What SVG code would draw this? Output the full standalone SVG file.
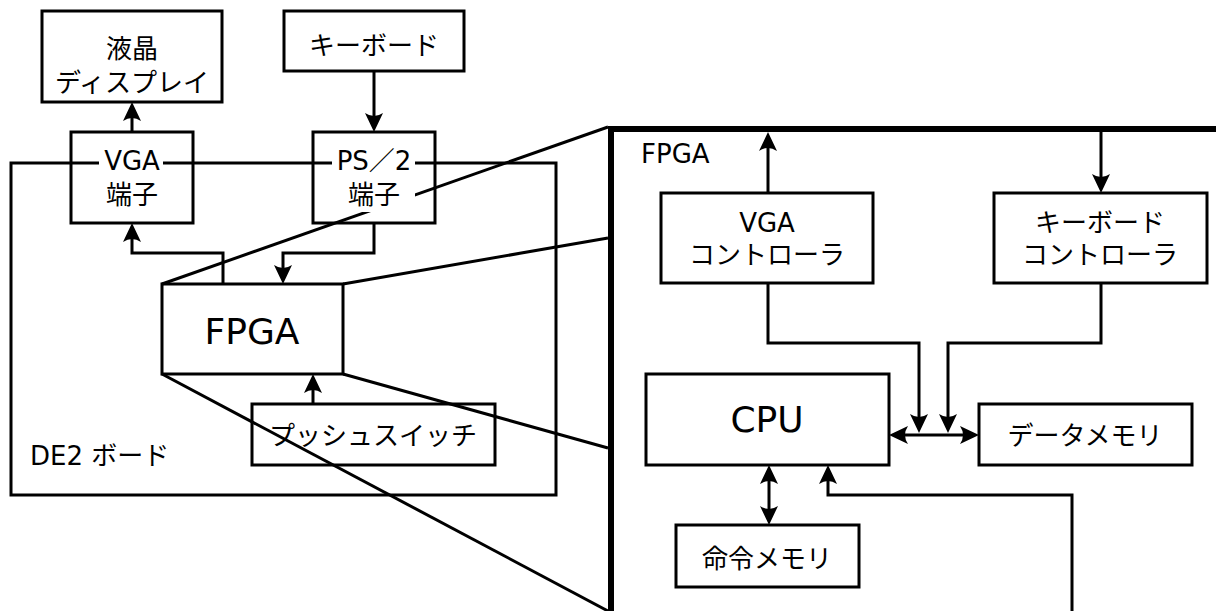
<svg xmlns="http://www.w3.org/2000/svg" width="1219" height="611" viewBox="0 0 1219 611">
<defs>
<style>
.box{fill:#fff;stroke:#000;stroke-width:3}
.obox{fill:none;stroke:#000;stroke-width:3}
.ln{fill:none;stroke:#000;stroke-width:3}
.bg{fill:#fff;stroke:none}
text{font-family:"DejaVu Sans","Noto Sans CJK JP",sans-serif;font-size:26px;fill:#000;text-anchor:middle}
.st{text-anchor:start}
.big{font-size:36px}
</style>
<marker id="ah" markerUnits="userSpaceOnUse" markerWidth="27" markerHeight="22" viewBox="-16 -11 27 22" refX="0" refY="0" orient="auto-start-reverse">
<path d="M5,0 L-14,-9 Q-8,0 -14,9 Z" fill="#000"/>
</marker>
</defs>
<rect width="1219" height="611" fill="#fff"/>

<g id="board">
<rect class="obox" x="11" y="163" width="545" height="332"/>
<text class="st" x="30" y="465">DE2 ボード</text>
</g>

<g id="lcd">
<rect class="box" x="42" y="11" width="180" height="91"/>
<text x="132" y="58">液晶</text>
<text x="132" y="92">ディスプレイ</text>
</g>

<g id="keyboard">
<rect class="box" x="284" y="11" width="180" height="60"/>
<text x="374" y="55">キーボード</text>
</g>

<g id="fpga">
<rect class="box" x="162" y="284" width="181" height="90"/>
<text class="big" x="252" y="344">FPGA</text>
</g>

<g id="pushswitch">
<rect class="box" x="252" y="404" width="243" height="61"/>
<text x="373" y="445">プッシュスイッチ</text>
</g>

<g id="zoomlines">
<path class="ln" d="M162,284 L608,127"/>
<path class="ln" d="M343,284 L608,238"/>
<path class="ln" d="M343,374 L608,448"/>
<path class="ln" d="M162,374 L608,611"/>
</g>

<g id="vgaport">
<rect class="obox" x="71" y="132" width="122" height="91"/>
<rect class="bg" x="99" y="148" width="64" height="64"/>
<text x="132" y="170">VGA</text>
<text x="132" y="204">端子</text>
</g>

<g id="ps2port">
<rect class="obox" x="313" y="132" width="122" height="91"/>
<rect class="bg" x="332" y="148" width="83" height="64"/>
<text x="374" y="170">PS／2</text>
<text x="374" y="204">端子</text>
</g>

<g id="fpgainner">
<path d="M611,611 V129 H1216" fill="none" stroke="#000" stroke-width="6"/>
<text class="st" x="641" y="163">FPGA</text>
</g>

<g id="vgactl">
<rect class="box" x="661" y="193" width="212" height="90"/>
<text x="767" y="232">VGA</text>
<text x="767" y="264">コントローラ</text>
</g>

<g id="kbctl">
<rect class="box" x="994" y="193" width="213" height="90"/>
<text x="1100" y="232">キーボード</text>
<text x="1100" y="264">コントローラ</text>
</g>

<g id="cpu">
<rect class="box" x="646" y="374" width="243" height="91"/>
<text class="big" x="767" y="432">CPU</text>
</g>

<g id="datamem">
<rect class="box" x="979" y="404" width="213" height="61"/>
<text x="1085" y="445">データメモリ</text>
</g>

<g id="instmem">
<rect class="box" x="676" y="525" width="183" height="62"/>
<text x="767" y="568">命令メモリ</text>
</g>

<g id="connectors">
<path class="ln" d="M132,132 V107" marker-end="url(#ah)"/>
<path class="ln" d="M374,71 V127" marker-end="url(#ah)"/>
<path class="ln" d="M223,284 V253 H132 V228" marker-end="url(#ah)"/>
<path class="ln" d="M374,223 V253 H283 V279" marker-end="url(#ah)"/>
<path class="ln" d="M313,404 V379" marker-end="url(#ah)"/>
<path class="ln" d="M768,193 V137" marker-end="url(#ah)"/>
<path class="ln" d="M1101,132 V188" marker-end="url(#ah)"/>
<path class="ln" d="M768,283 V343 H919 V428" marker-end="url(#ah)"/>
<path class="ln" d="M1101,283 V343 H948 V428" marker-end="url(#ah)"/>
<path class="ln" d="M894,435 H974" marker-start="url(#ah)" marker-end="url(#ah)"/>
<path class="ln" d="M769,470 V520" marker-start="url(#ah)" marker-end="url(#ah)"/>
<path class="ln" d="M1072,611 V495 H828 V470" marker-end="url(#ah)"/>
</g>
</svg>
